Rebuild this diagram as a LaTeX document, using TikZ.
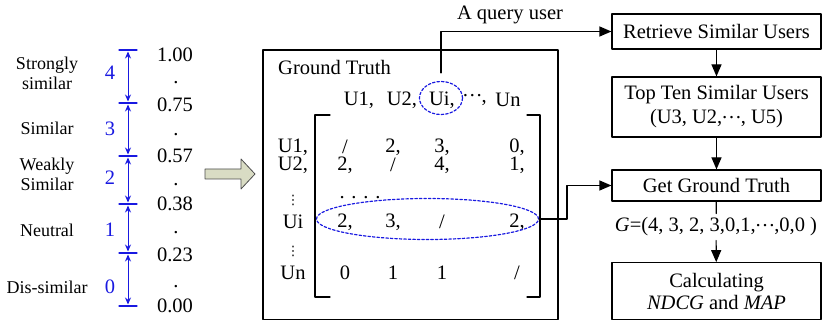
\documentclass[tikz,border=0pt]{standalone}
\usepackage{fontspec}
\setmainfont{Liberation Serif}
\newfontfamily\symbolfont{DejaVu Sans}
\usetikzlibrary{arrows.meta,shapes.geometric}

\definecolor{scaleblue}{RGB}{25,25,225}
\definecolor{arrowfill}{RGB}{217,220,196}

\newcommand{\mdots}{\raisebox{.28em}{\kern-1pt…\kern-1pt}}
\newcommand{\sdots}{{\symbolfont\fontsize{13}{13}\selectfont ⋮}}

\tikzset{
  every node/.style={font=\fontsize{20.5}{24}\selectfont, inner sep=0pt},
  flowbox/.style={draw, line width=1.2pt, minimum width=209pt, align=center},
  flowarrow/.style={-{Triangle[length=12pt,width=10pt]}, line width=1.2pt},
  scalearrow/.style={{Stealth[length=7pt,width=6pt]}-{Stealth[length=7pt,width=6pt]}, scaleblue, line width=1pt, shorten >=1.5pt, shorten <=1.5pt},
  pickring/.style={ellipse, draw=scaleblue, line width=1.2pt, dash pattern=on 2.5pt off 2pt},
  gradelabel/.style={font=\fontsize{18}{20}\selectfont, align=center}
}

\begin{document}
\begin{tikzpicture}[x=1pt,y=1pt,line cap=round,line join=round]
\useasboundingbox (0,0) rectangle (823,321);

% Similarity scale
\foreach \n/\y in {0/271,1/218,2/165,3/117,4/68,5/15}{
  \coordinate (t\n) at (128,\y);
  \draw[scaleblue, line width=1.2pt] (119,\y) -- (137,\y);
}
\foreach \a/\b in {0/1,1/2,2/3,3/4,4/5}
  \draw[scalearrow] (t\a) -- (t\b);

\foreach \n/\y/\v in {0/266/1.00,1/216/0.75,2/165/0.57,3/117/0.38,4/66/0.23,5/15/0.00}
  \node (v\n) at (175,\y) {\v};
\foreach \n/\y in {1/238,2/186,3/136,4/88,5/34}
  \node (dot\n) at (176,\y) {.};

\foreach \g/\y in {4/248,3/192,2/143,1/91,0/34}
  \node[text=scaleblue] (g\g) at (110,\y) {\g};

\node[gradelabel] (lab4) at (47,248) {Strongly\\similar};
\node[gradelabel] (lab3) at (47,193) {Similar};
\node[gradelabel] (lab2) at (47,147) {Weakly\\Similar};
\node[gradelabel] (lab1) at (47,91) {Neutral};
\node[gradelabel] (lab0) at (47,34) {Dis-similar};

% Hollow arrow
\draw[fill=arrowfill, draw=black!70, line width=0.8pt]
  (205,152) -- (241,152) -- (241,162) -- (255,147) -- (241,132) -- (241,142) -- (205,142) -- cycle;

% Ground truth matrix
\node[draw, line width=1.2pt, minimum width=295pt, minimum height=269.5pt] (gtbox) at (410.5,136.25) {};
\node[anchor=west] (gttitle) at (278,254) {Ground Truth};

\foreach \n/\x/\t in {1/359/{U1,},2/402/{U2,},i/442/{Ui,},d/475/{\mdots,},n/508/{Un}}
  \node (h\n) at (\x,221) {\t};

\foreach \n/\y/\t in {1/174/{U1,},2/156/{U2,},a/121/{\sdots},i/99/{Ui},b/70/{\sdots},n/48/{Un}}
  \node (r\n) at (293,\y) {\t};

\foreach \r/\y/\a/\b/\c/\d in {1/174/{/}/{2,}/{3,}/{0,},2/156/{2,}/{/}/{4,}/{1,},i/99/{2,}/{3,}/{/}/{2,},n/48/0/1/1/{/}}{
  \node (m\r a) at (345,\y) {\a};
  \node (m\r b) at (393,\y) {\b};
  \node (m\r c) at (442,\y) {\c};
  \node (m\r d) at (517,\y) {\d};
}
\node (mdots) at (360,123) {. . . .};

% Brackets
\draw[line width=1.2pt] (330,206) -- (315,206) -- (315,24) -- (330,24);
\draw[line width=1.2pt] (527,206) -- (540,206) -- (540,24) -- (527,24);

% Dotted selections
\node[pickring, minimum width=43pt, minimum height=33pt] (qell) at (441,223) {};
\node[pickring, minimum width=222pt, minimum height=41pt] (rowell) at (427.5,102) {};

% Evaluation steps
\node[flowbox, minimum height=35pt] (retr) at (716.5,289.5) {Retrieve Similar Users};
\node[flowbox, minimum height=60pt] (topten) at (716.5,214) {Top Ten Similar Users\\(U3, U2,\mdots, U5)};
\node[flowbox, minimum height=31pt] (getgt) at (716.5,135.5) {Get Ground Truth};
\node[flowbox, minimum height=56.5pt] (calc) at (716.5,30) {Calculating\\[-2pt]\textit{NDCG} and \textit{MAP}};
\node[inner ysep=4pt] (glab) at (716,94) {\textit{G}=(4, 3, 2, 3,0,1,\mdots,0,0 )};
\node (qlab) at (510,306) {A query user};

\draw[flowarrow] (retr) -- (topten);
\draw[flowarrow] (topten) -- (getgt);
\draw[line width=1.2pt] (getgt) -- (glab);
\draw[flowarrow] (glab) -- (calc);

\draw[flowarrow, shorten <=8pt] (qell.north) |- (retr.west);
\coordinate (rowturn) at (567,102);
\draw[flowarrow] (rowell.east) -- (rowturn) |- (getgt.west);

\end{tikzpicture}
\end{document}
